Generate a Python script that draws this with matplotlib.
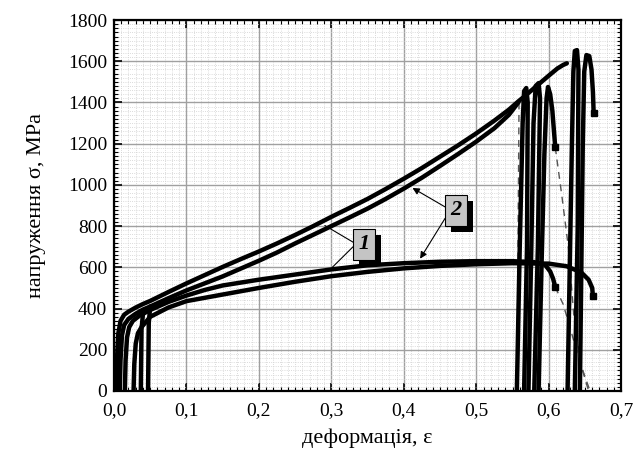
import matplotlib
matplotlib.use("Agg")
import matplotlib.pyplot as plt
from matplotlib.ticker import MultipleLocator, FuncFormatter
from matplotlib.patches import Rectangle
from matplotlib.transforms import IdentityTransform

plt.rcParams['font.family'] = ['Liberation Serif', 'DejaVu Serif']

# ---- data ----
# high-strength curves
c2a_x = [0.003, 0.004, 0.006, 0.009, 0.014, 0.02, 0.03, 0.04, 0.05, 0.075, 0.1, 0.125, 0.15, 0.175, 0.2,
         0.225, 0.25, 0.275, 0.3, 0.325, 0.35, 0.375, 0.4, 0.425, 0.45, 0.475, 0.5, 0.525, 0.545, 0.558,
         0.57, 0.585, 0.6, 0.612, 0.62, 0.625]
c2a_y = [0, 150, 280, 340, 370, 385, 405, 422, 437, 480, 522, 562, 602, 640, 677,
         716, 757, 800, 845, 888, 932, 980, 1030, 1082, 1137, 1192, 1250, 1312, 1365, 1405,
         1440, 1485, 1530, 1565, 1582, 1590]
c2b_x = [0.008, 0.009, 0.011, 0.014, 0.02, 0.03, 0.04, 0.05, 0.075, 0.1, 0.125, 0.15, 0.175, 0.2,
         0.225, 0.25, 0.275, 0.3, 0.325, 0.35, 0.375, 0.4, 0.425, 0.45, 0.475, 0.5, 0.525, 0.545, 0.558]
c2b_y = [0, 150, 270, 320, 350, 375, 395, 410, 450, 488, 522, 556, 594, 632,
         672, 716, 758, 800, 842, 885, 932, 982, 1035, 1092, 1150, 1210, 1275, 1340, 1400]
# low-strength curves
c1a_x = [0.015, 0.016, 0.018, 0.021, 0.026, 0.035, 0.05, 0.075, 0.1, 0.125, 0.15, 0.2, 0.25, 0.3,
         0.35, 0.4, 0.45, 0.5, 0.55, 0.58, 0.595, 0.602, 0.606, 0.609]
c1a_y = [0, 150, 260, 310, 340, 365, 393, 432, 463, 490, 512, 540, 565, 590,
         610, 620, 627, 630, 630, 625, 612, 580, 545, 505]
c1b_x = [0.027, 0.028, 0.03, 0.033, 0.038, 0.05, 0.075, 0.1, 0.125, 0.15, 0.2, 0.25, 0.3, 0.35,
         0.4, 0.45, 0.5, 0.55, 0.6, 0.625, 0.645, 0.655, 0.66, 0.661]
c1b_y = [0, 130, 230, 280, 310, 360, 405, 436, 452, 468, 500, 530, 557, 578,
         595, 607, 615, 620, 618, 605, 575, 540, 500, 460]
# extra loading segments at the start
s0a_x = [0.037, 0.038, 0.040]
s0a_y = [0, 300, 375]
s0b_x = [0.047, 0.048, 0.050]
s0b_y = [0, 330, 410]
# narrow peaks near fracture
p1_x = [0.556, 0.560, 0.564, 0.566, 0.569, 0.571, 0.570, 0.566]
p1_y = [0, 700, 1300, 1455, 1470, 1400, 700, 0]
p2_x = [0.572, 0.576, 0.579, 0.582, 0.586, 0.588, 0.585, 0.580]
p2_y = [0, 700, 1300, 1480, 1494, 1420, 700, 0]
p3_x = [0.586, 0.590, 0.594, 0.597, 0.599, 0.602, 0.605, 0.607, 0.609]
p3_y = [0, 600, 1150, 1420, 1475, 1440, 1360, 1270, 1183]
p4_x = [0.626, 0.629, 0.632, 0.634, 0.636, 0.639, 0.641, 0.640, 0.636]
p4_y = [0, 600, 1200, 1550, 1650, 1654, 1560, 800, 0]
p5_x = [0.643, 0.645, 0.647, 0.649, 0.652, 0.656, 0.659, 0.661, 0.662]
p5_y = [0, 600, 1200, 1550, 1630, 1625, 1560, 1450, 1348]
# dashed fracture traces
d1_x = [0.559, 0.558, 0.557, 0.556]
d1_y = [1400, 900, 400, 0]
d2_x = [0.609, 0.618, 0.627, 0.635, 0.645, 0.655]
d2_y = [1183, 950, 700, 350, 120, 0]
d3_x = [0.609, 0.62, 0.63, 0.642, 0.657]
d3_y = [505, 420, 300, 150, 0]

x_ticks = [0.0, 0.1, 0.2, 0.3, 0.4, 0.5, 0.6, 0.7]
y_ticks = [0, 200, 400, 600, 800, 1000, 1200, 1400, 1600, 1800]

fig = plt.figure(figsize=(6.34, 4.58), dpi=100)
ax = fig.add_axes([0.1798, 0.1463, 0.80, 0.81])

ax.set_xlim(0, 0.7)
ax.set_ylim(0, 1800)
ax.set_xticks(x_ticks)
ax.set_yticks(y_ticks)
ax.xaxis.set_minor_locator(MultipleLocator(0.01))
ax.yaxis.set_minor_locator(MultipleLocator(20))
ax.xaxis.set_major_formatter(FuncFormatter(lambda v, p: f"{v:.1f}".replace('.', ',')))
ax.tick_params(which='both', direction='in', top=True, right=True, labelsize=14)
ax.tick_params(axis='x', pad=8)
ax.tick_params(axis='y', pad=5)
ax.tick_params(which='major', length=6, width=1.2)
ax.tick_params(which='minor', length=3, width=0.8)
for s in ax.spines.values():
    s.set_linewidth(1.6)

ax.grid(which='minor', color='#cfcfcf', linestyle=':', linewidth=0.6)
ax.grid(which='major', color='#a0a0a0', linestyle='-', linewidth=1.0)
ax.set_axisbelow(True)

lw = 3.2
for xs, ys in [(c2a_x, c2a_y), (c2b_x, c2b_y), (c1a_x, c1a_y), (c1b_x, c1b_y),
               (s0a_x, s0a_y), (s0b_x, s0b_y),
               (p1_x, p1_y), (p2_x, p2_y), (p3_x, p3_y), (p4_x, p4_y), (p5_x, p5_y)]:
    ax.plot(xs, ys, color='black', lw=lw, solid_capstyle='round', solid_joinstyle='round', zorder=3)

for xs, ys in [(d1_x, d1_y), (d2_x, d2_y), (d3_x, d3_y)]:
    ax.plot(xs, ys, color='#555555', lw=1.0, ls=(0, (5, 4)), zorder=2)

# end markers
ax.plot([p3_x[-1], p5_x[-1], c1a_x[-1], c1b_x[-1]], [p3_y[-1], p5_y[-1], c1a_y[-1], c1b_y[-1]],
        ls='none', marker='s', ms=4, color='black', zorder=4)

ax.set_xlabel('деформація, ε', fontsize=16, labelpad=7)
ax.set_ylabel('напруження σ, МРа', fontsize=16, labelpad=16)

# labels in grey boxes with black drop shadows
labels = []
for x, y, t in [(0.472, 876, '2'), (0.345, 711, '1')]:
    labels.append(ax.text(x, y, t, ha='center', va='center', fontsize=16, fontweight='bold',
                          style='italic',
                          bbox=dict(boxstyle='square,pad=0.25', fc='#c4c4c4', ec='black', lw=0.8),
                          zorder=6))

arr = dict(arrowstyle='-|>', color='black', lw=0.8, mutation_scale=10, shrinkA=0, shrinkB=0)
ax.annotate('', xy=(0.412, 985), xytext=(0.457, 893), arrowprops=arr, zorder=5)
ax.annotate('', xy=(0.4225, 642), xytext=(0.457, 838), arrowprops=arr, zorder=5)
ln = dict(arrowstyle='-', color='black', lw=0.8, shrinkA=0, shrinkB=0)
ax.annotate('', xy=(0.291, 803), xytext=(0.330, 722), arrowprops=ln, zorder=5)
ax.annotate('', xy=(0.301, 599), xytext=(0.330, 700), arrowprops=ln, zorder=5)

fig.canvas.draw()
for t in labels:
    bb = t.get_bbox_patch().get_window_extent()
    ax.add_patch(Rectangle((bb.x0 + 6, bb.y0 - 6), bb.width, bb.height, transform=IdentityTransform(),
                           fc='black', ec='none', zorder=5.5))

fig.savefig('out.png', dpi=100)
